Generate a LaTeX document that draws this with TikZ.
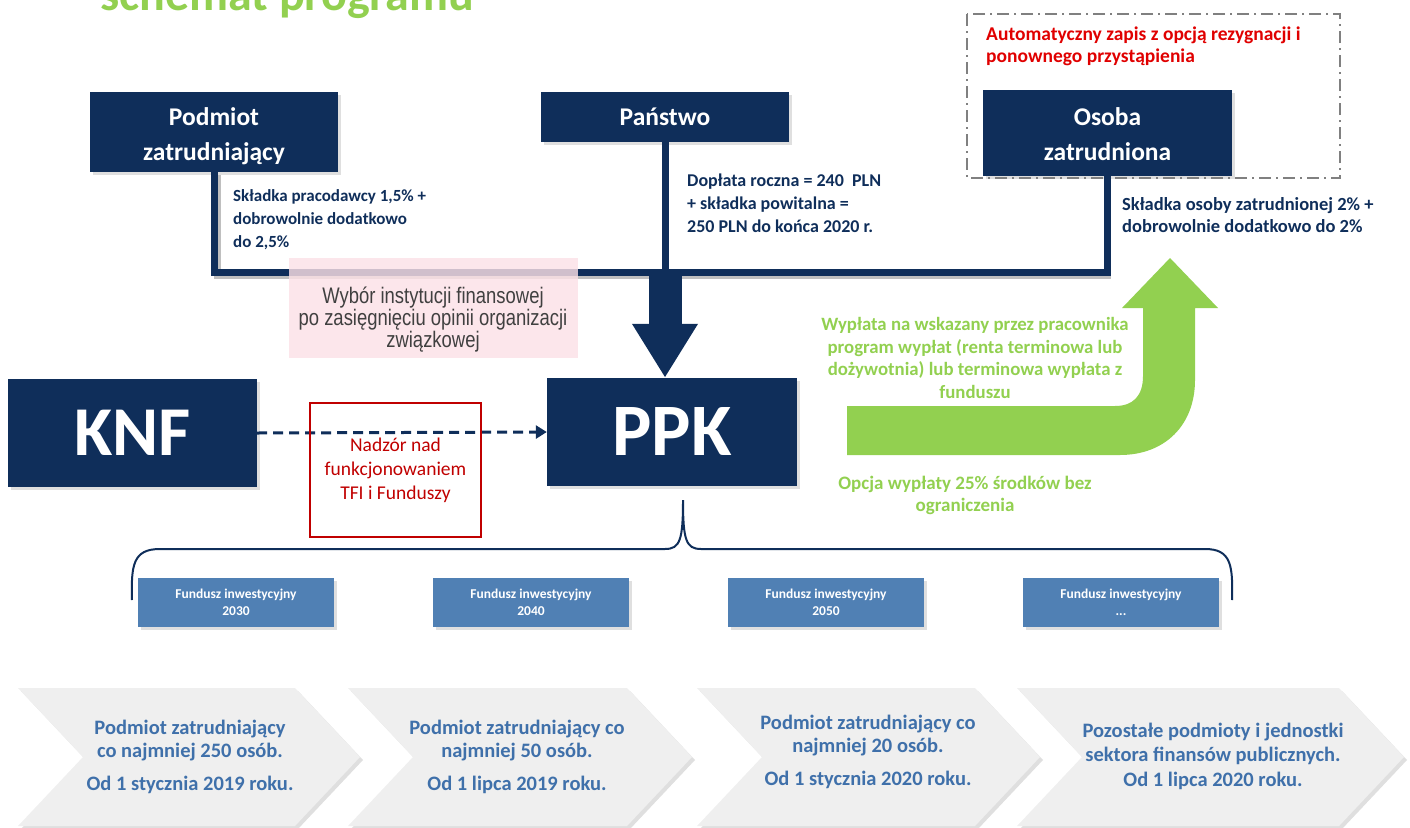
\documentclass[tikz,border=0pt]{standalone}
\usepackage{fontspec}
\setmainfont{Carlito}
\newfontfamily\narrowfont[FakeStretch=0.82]{Liberation Sans}
\usetikzlibrary{arrows.meta,shadows,calc}
\definecolor{navy}{HTML}{0F2E5A}
\definecolor{fundblue}{HTML}{5080B4}
\definecolor{chevtext}{HTML}{3F70AA}
\definecolor{lgreen}{HTML}{92D050}
\definecolor{autored}{HTML}{E00000}
\definecolor{boxred}{HTML}{C00000}
\definecolor{pinkbg}{HTML}{FBE0E6}
\definecolor{chevfill}{HTML}{EFEFEF}
\newcommand\myfs[2]{\fontsize{#1}{#2}\selectfont}
\tikzset{
  navybox/.style={fill=navy, text=white, inner sep=0pt, align=center,
    font=\bfseries, drop shadow={shadow xshift=3pt, shadow yshift=-3pt, opacity=0.25}},
  boxtext/.style={text=white, inner sep=0pt, align=center, font=\bfseries\myfs{25.5}{35}},
  fundbox/.style={fill=fundblue, text=white, inner sep=0pt, align=center,
    minimum width=196, minimum height=49, font=\bfseries\myfs{13.5}{17},
    drop shadow={shadow xshift=3pt, shadow yshift=-3pt, opacity=0.25}},
  navyline/.style={draw=navy, line width=7pt},
  navytext/.style={text=navy, font=\bfseries\myfs{17}{23}, align=left, inner sep=0pt},
  chevron/.style={fill=chevfill, draw=none,
    drop shadow={shadow xshift=3pt, shadow yshift=-3pt, opacity=0.25}},
  chevlabel/.style={text=chevtext, font=\bfseries\myfs{20.5}{23}, align=center, inner sep=0pt},
  greentext/.style={text=lgreen, font=\bfseries\myfs{18.8}{22.5}, align=center, inner sep=0pt},
}
\begin{document}
\begin{tikzpicture}[x=1pt,y=-1pt]
\useasboundingbox (0,0) rectangle (1410,827);

% title
\node[anchor=base west, inner sep=0pt, text=lgreen, font=\bfseries\myfs{48}{52}] (title) at (100,10) {schemat programu};

% automatic enrolment frame
\draw[gray, line width=2pt, dash pattern=on 12pt off 5pt on 2pt off 5pt] (967,14) rectangle (1340,178);
\node[anchor=west, text=autored, font=\bfseries\myfs{19.5}{22}, align=left, inner sep=0pt] (auto) at (986,46)
  {Automatyczny zapis z opcją rezygnacji i\\ponownego przystąpienia};

% top boxes
\node[navybox, minimum width=248, minimum height=80] (podmiot) at (214,132) {};
\node[boxtext] (podmiotT) at ($(podmiot.center)+(0,4.5)$) {Podmiot\\zatrudniający};
\node[navybox, minimum width=248, minimum height=50, font=\bfseries\myfs{25.5}{35}] (panstwo) at (665,117) {Państwo};
\node[navybox, minimum width=249, minimum height=86] (osoba) at (1107.5,133) {};
\node[boxtext] (osobaT) at ($(osoba.center)+(0,1.5)$) {Osoba\\zatrudniona};

% contribution lines
\coordinate (hl) at (0,272);
\draw[black!25, line width=7pt] ($(podmiot.south)+(3,3)$) |- ($(osoba.south |- hl)+(3,3)$);
\draw[navyline] (podmiot.south) |- (osoba.south |- hl) -- (osoba.south);
\draw[navyline] (panstwo.south) -- (panstwo.south |- hl);

% texts of contributions
\node[navytext, anchor=west] (t1) at (233,220) {Składka pracodawcy 1,5\% +\\dobrowolnie dodatkowo\\do 2,5\%};
\node[navytext, anchor=west, font=\bfseries\myfs{18}{23}] (t2) at (687,203) {Dopłata roczna = 240~ PLN\\+ składka powitalna =\\250 PLN do końca 2020 r.};
\node[navytext, anchor=west, font=\bfseries\myfs{18.5}{22}] (t3) at (1122,215) {Składka osoby zatrudnionej 2\% +\\dobrowolnie dodatkowo do 2\%};

% main boxes
\node[navybox, minimum width=249, minimum height=108, font=\bfseries\myfs{70}{80}] (knf) at (132.5,433) {KNF};
\node[navybox, minimum width=250, minimum height=108, font=\bfseries\myfs{74}{80}] (ppk) at (672,432) {PPK};

% big arrow into PPK
\coordinate (ah) at (panstwo.south |- hl);
\draw[navy, line width=33pt, -{Triangle[length=54pt,width=62pt]}] ($(ah)+(0,-3)$) -- (ppk.north -| ah);

% pink box
\fill[pinkbg, fill opacity=0.82] (289,258) rectangle (578,358);
\node[text=black!75, font=\narrowfont\myfs{22.5}{22}, align=center, inner sep=0pt] (wybor) at (433,320)
  {Wybór instytucji finansowej\\po zasięgnięciu opinii organizacji\\związkowej};

% KNF supervision
\draw[navy, line width=3pt, dash pattern=on 10pt off 6pt, -{Triangle[length=11pt,width=13pt]}] (knf.east) -- (ppk.west);
\node[draw=boxred, line width=2pt, minimum width=171, minimum height=134, inner sep=0pt,
  text=boxred, font=\myfs{19.5}{24}, align=center] (nadzor) at (395.5,470)
  {Nadzór nad\\funkcjonowaniem\\TFI i Funduszy};

% green arrow
\fill[lgreen] (847,406) -- (1115,406) .. controls (1133,406) and (1143,396) .. (1143,376)
  -- (1143,308) -- (1122,308) -- (1170,258) -- (1218,308) -- (1195,308) -- (1195,380)
  .. controls (1195,425) and (1165,455) .. (1120,455) -- (847,455) -- cycle;
\node[greentext] (wyplata) at (975,358)
  {Wypłata na wskazany przez pracownika\\program wypłat (renta terminowa lub\\dożywotnia) lub terminowa wypłata z\\funduszu};
\node[greentext, font=\bfseries\myfs{19}{22}] (opcja) at (965,495) {Opcja wypłaty 25\% środków bez\\ograniczenia};

% brace
\coordinate (bt) at (683,500);
\draw[navy, line width=2pt] (132,600) .. controls (131,565) and (133,549) .. (160,549) -- (665,549)
  .. controls (680,549) and (683,540) .. (bt) .. controls (683,540) and (686,549) .. (701,549)
  -- (1205,549) .. controls (1231,549) and (1233,565) .. (1232,600);

% funds
\node[fundbox] (f1) at (236,602.5) {Fundusz inwestycyjny\\2030};
\node[fundbox] (f2) at (531,602.5) {Fundusz inwestycyjny\\2040};
\node[fundbox] (f3) at (826,602.5) {Fundusz inwestycyjny\\2050};
\node[fundbox] (f4) at (1121,602.5) {Fundusz inwestycyjny\\...};

% chevrons
\foreach \L/\R in {18/360, 348/692, 697/1040, 1017/1404} {
  \path[chevron] (\L,688) -- (\R-65,688) -- (\R,757) -- (\R-65,826) -- (\L,826) -- (\L+65,757) -- cycle;
}
\node[chevlabel] (c1) at (190,757) {Podmiot zatrudniający\\co najmniej 250 osób.\\[10pt]Od 1 stycznia 2019 roku.};
\node[chevlabel] (c2) at (517,757) {Podmiot zatrudniający co\\najmniej 50 osób.\\[10pt]Od 1 lipca 2019 roku.};
\node[chevlabel] (c3) at (868,752) {Podmiot zatrudniający co\\najmniej 20 osób.\\[10pt]Od 1 stycznia 2020 roku.};
\node[chevlabel, font=\bfseries\myfs{20.5}{24.5}] (c4) at (1213,756) {Pozostałe podmioty i jednostki\\sektora finansów publicznych.\\Od 1 lipca 2020 roku.};
\end{tikzpicture}
\end{document}
